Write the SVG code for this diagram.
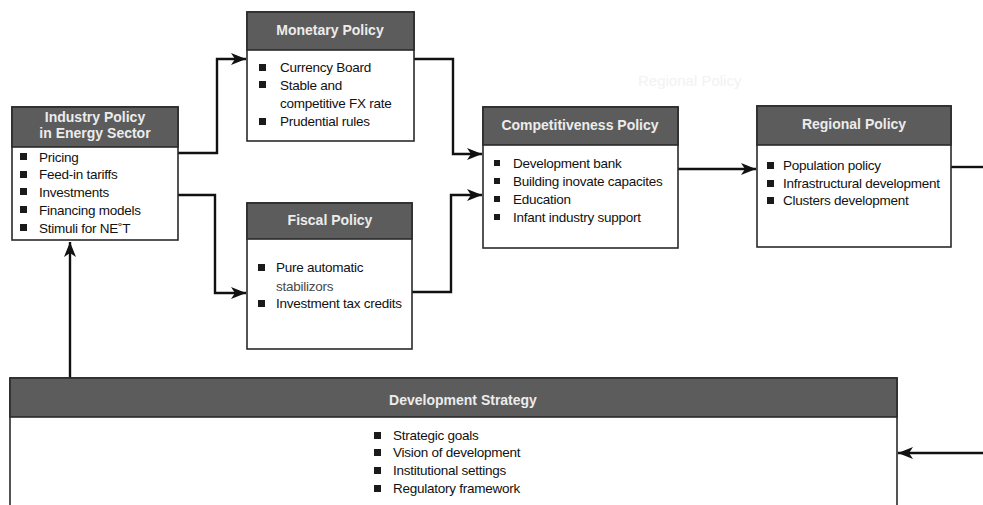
<svg xmlns="http://www.w3.org/2000/svg" width="983" height="505" viewBox="0 0 983 505">
  <style>
    .box { fill: #ffffff; stroke: #2a2a2a; stroke-width: 1.6; }
    .head { fill: #5c5c5c; stroke: #2a2a2a; stroke-width: 1.6; }
    .title { font-family: "Liberation Sans", Arial, sans-serif; font-size: 14px; font-weight: bold; fill: #ececec; text-anchor: middle; }
    .item { font-family: "Liberation Sans", Arial, sans-serif; font-size: 13.5px; fill: #111111; letter-spacing: -0.25px; }
    .soft { fill: #4a4a4a; }
    .bul { fill: #1a1a1a; }
    .ghost { font-family: "Liberation Sans", Arial, sans-serif; font-size: 15px; fill: #f2f2f2; }
    .wire { fill: none; stroke: #111111; stroke-width: 2.4; }
  </style>
  <defs>
    <marker id="arrow" markerUnits="userSpaceOnUse" markerWidth="16" markerHeight="12" refX="15" refY="6" orient="auto">
      <path d="M0,0 L15,6 L0,12 L4,6 z" fill="#111111"/>
    </marker>
  </defs>

  <rect width="983" height="505" fill="#ffffff"/>

  <text class="ghost" x="638" y="86">Regional Policy</text>

  <!-- connectors -->
  <g id="connectors">
    <path class="wire" d="M178,153 H217 V59 H246" marker-end="url(#arrow)"/>
    <path class="wire" d="M178,195 H215 V293 H246" marker-end="url(#arrow)"/>
    <path class="wire" d="M414,59 H453 V154 H482" marker-end="url(#arrow)"/>
    <path class="wire" d="M412,292 H451 V195 H482" marker-end="url(#arrow)"/>
    <path class="wire" d="M678,169 H756" marker-end="url(#arrow)"/>
    <path class="wire" d="M951,167 H983"/>
    <path class="wire" d="M983,453 H898" marker-end="url(#arrow)"/>
    <path class="wire" d="M70,378 V242" marker-end="url(#arrow)"/>
  </g>

  <!-- Industry Policy in Energy Sector -->
  <g id="industry-policy">
    <rect class="box" x="12" y="107" width="166" height="133"/>
    <rect class="head" x="12" y="107" width="166" height="40"/>
    <text class="title" x="95" y="122">Industry Policy</text>
    <text class="title" x="95" y="138">in Energy Sector</text>
    <rect class="bul" x="20" y="153" width="7" height="7"/>
    <rect class="bul" x="20" y="171" width="7" height="7"/>
    <rect class="bul" x="20" y="188" width="7" height="7"/>
    <rect class="bul" x="20" y="206" width="7" height="7"/>
    <rect class="bul" x="20" y="224" width="7" height="7"/>
    <text class="item" x="39" y="162">Pricing</text>
    <text class="item" x="39" y="179">Feed-in tariffs</text>
    <text class="item" x="39" y="197">Investments</text>
    <text class="item" x="39" y="215">Financing models</text>
    <text class="item" x="39" y="233">Stimuli for NE˚T</text>
  </g>

  <!-- Monetary Policy -->
  <g id="monetary-policy">
    <rect class="box" x="247" y="12" width="167" height="129"/>
    <rect class="head" x="247" y="12" width="167" height="38"/>
    <text class="title" x="330" y="35">Monetary Policy</text>
    <rect class="bul" x="259" y="64" width="7" height="7"/>
    <rect class="bul" x="259" y="81" width="7" height="7"/>
    <rect class="bul" x="259" y="118" width="7" height="7"/>
    <text class="item" x="280" y="72">Currency Board</text>
    <text class="item" x="280" y="90">Stable and</text>
    <text class="item" x="280" y="108">competitive FX rate</text>
    <text class="item" x="280" y="126">Prudential rules</text>
  </g>

  <!-- Fiscal Policy -->
  <g id="fiscal-policy">
    <rect class="box" x="247" y="203" width="165" height="146"/>
    <rect class="head" x="247" y="203" width="165" height="36"/>
    <text class="title" x="330" y="225">Fiscal Policy</text>
    <rect class="bul" x="258" y="264" width="7" height="7"/>
    <rect class="bul" x="258" y="300" width="7" height="7"/>
    <text class="item" x="276" y="272">Pure automatic</text>
    <text class="item soft" x="276" y="291">stabilizors</text>
    <text class="item" x="276" y="308">Investment tax credits</text>
  </g>

  <!-- Competitiveness Policy -->
  <g id="competitiveness-policy">
    <rect class="box" x="483" y="107" width="195" height="141"/>
    <rect class="head" x="483" y="107" width="195" height="38"/>
    <text class="title" x="580" y="130">Competitiveness Policy</text>
    <rect class="bul" x="494" y="160" width="6" height="6"/>
    <rect class="bul" x="494" y="178" width="6" height="6"/>
    <rect class="bul" x="494" y="196" width="6" height="6"/>
    <rect class="bul" x="494" y="214" width="6" height="6"/>
    <text class="item" x="513" y="168">Development bank</text>
    <text class="item" x="513" y="186">Building inovate capacites</text>
    <text class="item" x="513" y="204">Education</text>
    <text class="item" x="513" y="222">Infant industry support</text>
  </g>

  <!-- Regional Policy -->
  <g id="regional-policy">
    <rect class="box" x="757" y="106" width="194" height="141"/>
    <rect class="head" x="757" y="106" width="194" height="39"/>
    <text class="title" x="854" y="129">Regional Policy</text>
    <rect class="bul" x="767" y="162" width="7" height="7"/>
    <rect class="bul" x="767" y="180" width="7" height="7"/>
    <rect class="bul" x="767" y="197" width="7" height="7"/>
    <text class="item" x="783" y="170">Population policy</text>
    <text class="item" x="783" y="188">Infrastructural development</text>
    <text class="item" x="783" y="205">Clusters development</text>
  </g>

  <!-- Development Strategy -->
  <g id="development-strategy">
    <rect class="box" x="10" y="378" width="887" height="140"/>
    <rect class="head" x="10" y="378" width="887" height="39"/>
    <text class="title" x="463" y="405">Development Strategy</text>
    <rect class="bul" x="374" y="432" width="7" height="7"/>
    <rect class="bul" x="374" y="449" width="7" height="7"/>
    <rect class="bul" x="374" y="467" width="7" height="7"/>
    <rect class="bul" x="374" y="485" width="7" height="7"/>
    <text class="item" x="393" y="440">Strategic goals</text>
    <text class="item" x="393" y="457">Vision of development</text>
    <text class="item" x="393" y="475">Institutional settings</text>
    <text class="item" x="393" y="493">Regulatory framework</text>
  </g>
</svg>
